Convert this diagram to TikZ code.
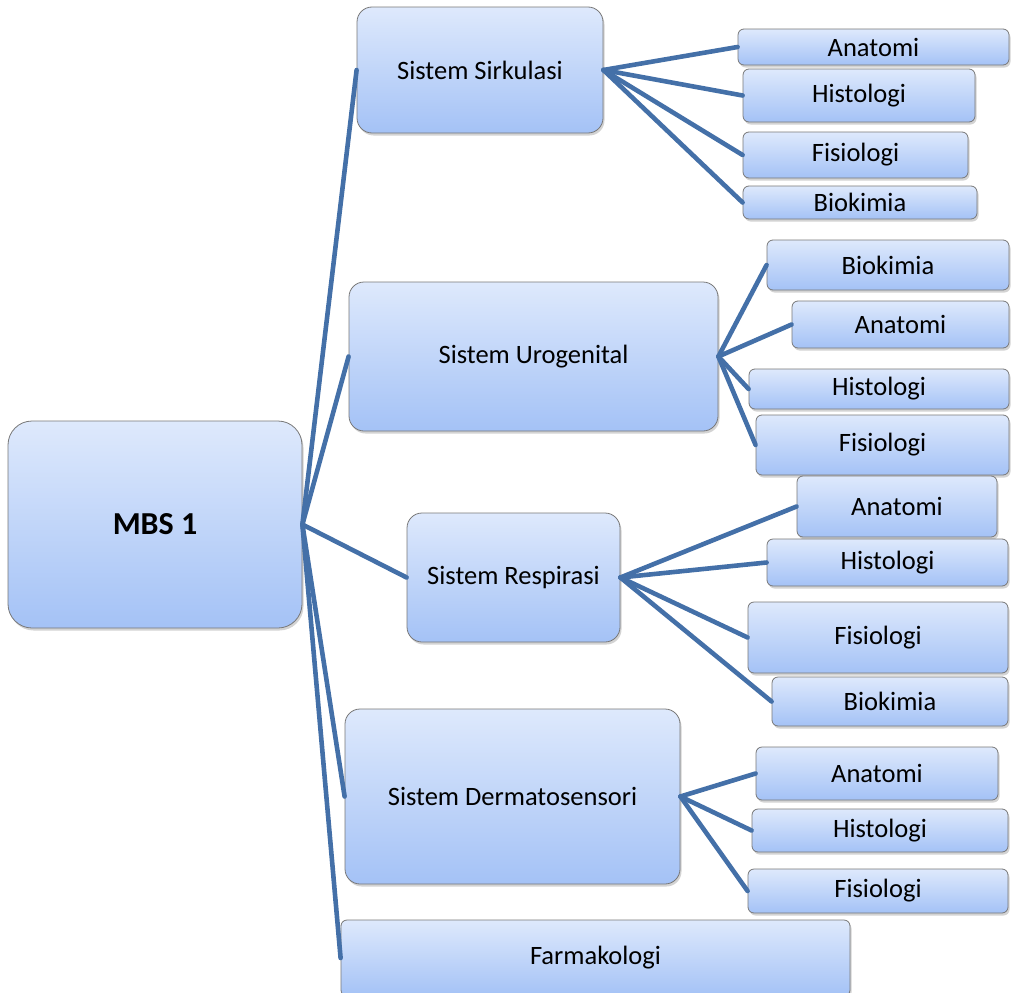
\documentclass[tikz,border=0pt]{standalone}
\usepackage{fontspec}
\setmainfont{Carlito}
\usepackage{tikz}
\usetikzlibrary{shadows}

\definecolor{boxtop}{RGB}{222,233,252}
\definecolor{boxbottom}{RGB}{164,194,246}
\definecolor{boxline}{RGB}{120,120,120}
\definecolor{branchblue}{RGB}{68,112,168}

\begin{document}
\begin{tikzpicture}[x=1pt, y=-1pt,
    box/.style={draw=boxline, line width=0.8pt, rectangle, inner sep=0pt,
        top color=boxtop, bottom color=boxbottom,
        drop shadow={shadow xshift=1.5pt, shadow yshift=-2.5pt, opacity=0.35},
        font=\fontsize{26.5}{30}\selectfont},
    bigbox/.style={box, rounded corners=24pt},
    midbox/.style={box, rounded corners=15pt},
    leafbox/.style={box, rounded corners=6pt},
    branch/.style={draw=branchblue, line width=4.6pt, line cap=round}]
    \useasboundingbox (0, 0) rectangle (1018, 993);

    \node[bigbox, minimum width=294pt, minimum height=207pt, font=\fontsize{32}{36}\selectfont\bfseries] (mbs) at (155, 524.5) {MBS 1};

    \node[midbox, minimum width=246pt, minimum height=126pt] (sirk) at (480, 70) {Sistem Sirkulasi};
    \node[midbox, minimum width=369pt, minimum height=149pt] (uro) at (533.5, 356.5) {Sistem Urogenital};
    \node[midbox, minimum width=213pt, minimum height=129pt] (resp) at (513.5, 577.5) {Sistem Respirasi};
    \node[midbox, minimum width=335pt, minimum height=175pt] (derm) at (512.5, 796.5) {Sistem Dermatosensori};
    \node[leafbox, minimum width=509pt, minimum height=76pt] (farm) at (595.5, 958) {Farmakologi};

    \node[leafbox, minimum width=271pt, minimum height=36pt] (sirkana) at (873.5, 47) {Anatomi};
    \node[leafbox, minimum width=232pt, minimum height=53pt] (sirkhis) at (859, 95.5) {Histologi};
    \node[leafbox, minimum width=225pt, minimum height=46pt] (sirkfis) at (855.5, 155) {Fisiologi};
    \node[leafbox, minimum width=234pt, minimum height=33pt] (sirkbio) at (860, 202.5) {Biokimia};

    \node[leafbox, minimum width=242pt, minimum height=50pt] (urobio) at (888, 265) {Biokimia};
    \node[leafbox, minimum width=217pt, minimum height=47pt] (uroana) at (900.5, 324.5) {Anatomi};
    \node[leafbox, minimum width=260pt, minimum height=40pt] (urohis) at (879, 389) {Histologi};
    \node[leafbox, minimum width=253pt, minimum height=60pt] (urofis) at (882.5, 445) {Fisiologi};

    \node[leafbox, minimum width=200pt, minimum height=61pt] (respana) at (897, 506.5) {Anatomi};
    \node[leafbox, minimum width=241pt, minimum height=47pt] (resphis) at (887.5, 562.5) {Histologi};
    \node[leafbox, minimum width=260pt, minimum height=71pt] (respfis) at (878, 637.5) {Fisiologi};
    \node[leafbox, minimum width=236pt, minimum height=49pt] (respbio) at (890, 701.5) {Biokimia};

    \node[leafbox, minimum width=242pt, minimum height=53pt] (dermana) at (877, 773.5) {Anatomi};
    \node[leafbox, minimum width=256pt, minimum height=43pt] (dermhis) at (880, 830.5) {Histologi};
    \node[leafbox, minimum width=260pt, minimum height=44pt] (dermfis) at (878, 891) {Fisiologi};

    \draw[branch] (mbs.east) -- (sirk.west);
    \draw[branch] (mbs.east) -- (uro.west);
    \draw[branch] (mbs.east) -- (resp.west);
    \draw[branch] (mbs.east) -- (derm.west);
    \draw[branch] (mbs.east) -- (farm.west);

    \draw[branch] (sirk.east) -- (sirkana.west);
    \draw[branch] (sirk.east) -- (sirkhis.west);
    \draw[branch] (sirk.east) -- (sirkfis.west);
    \draw[branch] (sirk.east) -- (sirkbio.west);

    \draw[branch] (uro.east) -- (urobio.west);
    \draw[branch] (uro.east) -- (uroana.west);
    \draw[branch] (uro.east) -- (urohis.west);
    \draw[branch] (uro.east) -- (urofis.west);

    \draw[branch] (resp.east) -- (respana.west);
    \draw[branch] (resp.east) -- (resphis.west);
    \draw[branch] (resp.east) -- (respfis.west);
    \draw[branch] (resp.east) -- (respbio.west);

    \draw[branch] (derm.east) -- (dermana.west);
    \draw[branch] (derm.east) -- (dermhis.west);
    \draw[branch] (derm.east) -- (dermfis.west);
\end{tikzpicture}
\end{document}
